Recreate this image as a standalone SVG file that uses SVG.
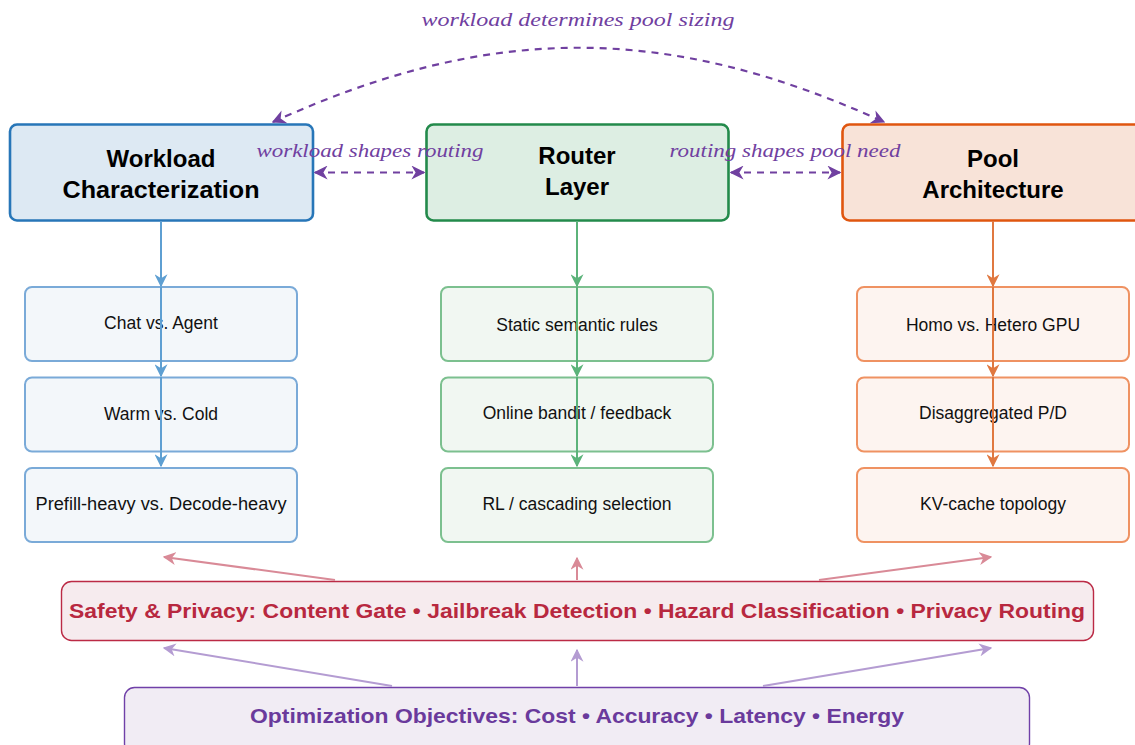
<svg xmlns="http://www.w3.org/2000/svg" width="1135" height="745" viewBox="0 0 1135 745">
<defs>
<style>
.title{font-family:"Liberation Sans",Arial,sans-serif;font-weight:bold;font-size:24px;fill:#000;text-anchor:middle}
.sub{font-family:"Liberation Sans",Arial,sans-serif;font-size:17.5px;fill:#111;text-anchor:middle}
.lbl{font-family:"Liberation Serif","Times New Roman",serif;font-style:italic;font-size:19px;fill:#7040a0;text-anchor:middle}
.band{font-family:"Liberation Sans",Arial,sans-serif;font-weight:bold;text-anchor:middle}
.dash{stroke:#7040a0;stroke-width:2.2;stroke-dasharray:7,6;fill:none}
</style>
<marker id="mP" viewBox="0 0 10 10" refX="9" refY="5" markerWidth="14" markerHeight="14" markerUnits="userSpaceOnUse" orient="auto-start-reverse"><path d="M0,0 L10,5 L0,10 L3,5 z" fill="#7040a0"/></marker>
<marker id="mB" viewBox="0 0 10 10" refX="9" refY="5" markerWidth="13" markerHeight="13" markerUnits="userSpaceOnUse" orient="auto"><path d="M0,0 L10,5 L0,10 L3,5 z" fill="#5e9fd2"/></marker>
<marker id="mG" viewBox="0 0 10 10" refX="9" refY="5" markerWidth="13" markerHeight="13" markerUnits="userSpaceOnUse" orient="auto"><path d="M0,0 L10,5 L0,10 L3,5 z" fill="#5cb37a"/></marker>
<marker id="mO" viewBox="0 0 10 10" refX="9" refY="5" markerWidth="13" markerHeight="13" markerUnits="userSpaceOnUse" orient="auto"><path d="M0,0 L10,5 L0,10 L3,5 z" fill="#e07840"/></marker>
<marker id="mR" viewBox="0 0 10 10" refX="9" refY="5" markerWidth="13" markerHeight="13" markerUnits="userSpaceOnUse" orient="auto"><path d="M0,0 L10,5 L0,10 L3,5 z" fill="#d98a97"/></marker>
<marker id="mV" viewBox="0 0 10 10" refX="9" refY="5" markerWidth="13" markerHeight="13" markerUnits="userSpaceOnUse" orient="auto"><path d="M0,0 L10,5 L0,10 L3,5 z" fill="#b49cd2"/></marker>
</defs>
<rect width="1135" height="745" fill="#fff"/>

<g id="workload">
<rect x="10" y="124.5" width="303" height="96" rx="7" fill="#dde9f3" stroke="#2776b8" stroke-width="2.6"/>
<text class="title" x="161" y="167">Workload</text>
<text class="title" x="161" y="198" textLength="197" lengthAdjust="spacingAndGlyphs">Characterization</text>
</g>
<g id="router">
<rect x="426.5" y="124.5" width="302" height="96" rx="7" fill="#ddeee3" stroke="#238a4b" stroke-width="2.6"/>
<text class="title" x="577" y="164">Router</text>
<text class="title" x="577" y="195">Layer</text>
</g>
<g id="pool">
<rect x="842.5" y="124.5" width="302" height="96" rx="7" fill="#f8e3d8" stroke="#e0560f" stroke-width="2.6"/>
<text class="title" x="993" y="167">Pool</text>
<text class="title" x="993" y="198">Architecture</text>
</g>

<g id="w1"><rect x="25" y="287" width="272" height="74" rx="7" fill="#f3f7fa" stroke="#7aaad8" stroke-width="2"/><text class="sub" x="161" y="329">Chat vs. Agent</text></g>
<g id="w2"><rect x="25" y="377.5" width="272" height="74" rx="7" fill="#f3f7fa" stroke="#7aaad8" stroke-width="2"/><text class="sub" x="161" y="420">Warm vs. Cold</text></g>
<g id="w3"><rect x="25" y="468" width="272" height="74" rx="7" fill="#f3f7fa" stroke="#7aaad8" stroke-width="2"/><text class="sub" x="161" y="510" textLength="251" lengthAdjust="spacingAndGlyphs">Prefill-heavy vs. Decode-heavy</text></g>

<g id="r1"><rect x="441" y="287" width="272" height="74" rx="7" fill="#f1f7f2" stroke="#7cc08f" stroke-width="2"/><text class="sub" x="577" y="331">Static semantic rules</text></g>
<g id="r2"><rect x="441" y="377.5" width="272" height="74" rx="7" fill="#f1f7f2" stroke="#7cc08f" stroke-width="2"/><text class="sub" x="577" y="419">Online bandit / feedback</text></g>
<g id="r3"><rect x="441" y="468" width="272" height="74" rx="7" fill="#f1f7f2" stroke="#7cc08f" stroke-width="2"/><text class="sub" x="577" y="510">RL / cascading selection</text></g>

<g id="p1"><rect x="857" y="287" width="272" height="74" rx="7" fill="#fdf4f0" stroke="#ef9262" stroke-width="2"/><text class="sub" x="993" y="331">Homo vs. Hetero GPU</text></g>
<g id="p2"><rect x="857" y="377.5" width="272" height="74" rx="7" fill="#fdf4f0" stroke="#ef9262" stroke-width="2"/><text class="sub" x="993" y="419">Disaggregated P/D</text></g>
<g id="p3"><rect x="857" y="468" width="272" height="74" rx="7" fill="#fdf4f0" stroke="#ef9262" stroke-width="2"/><text class="sub" x="993" y="510">KV-cache topology</text></g>

<g id="safety">
<rect x="61.5" y="581.5" width="1032" height="59" rx="10" fill="#f6ebee" stroke="#bb2a45" stroke-width="1.4"/>
<text class="band" x="577" y="618" font-size="21" fill="#b8283f" textLength="1016" lengthAdjust="spacingAndGlyphs">Safety &amp; Privacy: Content Gate • Jailbreak Detection • Hazard Classification • Privacy Routing</text>
</g>
<g id="objectives">
<rect x="124.5" y="687.5" width="905" height="66" rx="10" fill="#f1ecf4" stroke="#7040a8" stroke-width="1.4"/>
<text class="band" x="577" y="723" font-size="21" fill="#6a3a9c" textLength="654" lengthAdjust="spacingAndGlyphs">Optimization Objectives: Cost • Accuracy • Latency • Energy</text>
</g>

<g id="connectors" fill="none">
<line x1="161" y1="221" x2="161" y2="286" stroke="#5e9fd2" stroke-width="2" marker-end="url(#mB)"/>
<line x1="161" y1="287" x2="161" y2="376" stroke="#5e9fd2" stroke-width="2" marker-end="url(#mB)"/>
<line x1="161" y1="377" x2="161" y2="466" stroke="#5e9fd2" stroke-width="2" marker-end="url(#mB)"/>
<line x1="577" y1="221" x2="577" y2="286" stroke="#5cb37a" stroke-width="2" marker-end="url(#mG)"/>
<line x1="577" y1="287" x2="577" y2="376" stroke="#5cb37a" stroke-width="2" marker-end="url(#mG)"/>
<line x1="577" y1="377" x2="577" y2="466" stroke="#5cb37a" stroke-width="2" marker-end="url(#mG)"/>
<line x1="993" y1="221" x2="993" y2="286" stroke="#e07840" stroke-width="2" marker-end="url(#mO)"/>
<line x1="993" y1="287" x2="993" y2="376" stroke="#e07840" stroke-width="2" marker-end="url(#mO)"/>
<line x1="993" y1="377" x2="993" y2="466" stroke="#e07840" stroke-width="2" marker-end="url(#mO)"/>

<line class="dash" x1="315" y1="172.5" x2="424" y2="172.5" marker-start="url(#mP)" marker-end="url(#mP)"/>
<line class="dash" x1="731" y1="172.5" x2="840" y2="172.5" marker-start="url(#mP)" marker-end="url(#mP)"/>
<path class="dash" d="M273,122 C490,23 667,23 884,122" marker-start="url(#mP)" marker-end="url(#mP)"/>

<line x1="335" y1="580" x2="164" y2="557" stroke="#d98a97" stroke-width="2" marker-end="url(#mR)"/>
<line x1="577" y1="580" x2="577" y2="558" stroke="#d98a97" stroke-width="2" marker-end="url(#mR)"/>
<line x1="819" y1="580" x2="991" y2="557" stroke="#d98a97" stroke-width="2" marker-end="url(#mR)"/>
<line x1="392" y1="686" x2="164" y2="648" stroke="#b49cd2" stroke-width="2" marker-end="url(#mV)"/>
<line x1="577" y1="686" x2="577" y2="650" stroke="#b49cd2" stroke-width="2" marker-end="url(#mV)"/>
<line x1="763" y1="686" x2="991" y2="648" stroke="#b49cd2" stroke-width="2" marker-end="url(#mV)"/>
</g>

<g id="labels">
<text class="lbl" x="578" y="26" textLength="313" lengthAdjust="spacingAndGlyphs">workload determines pool sizing</text>
<text class="lbl" x="370" y="157" textLength="227" lengthAdjust="spacingAndGlyphs">workload shapes routing</text>
<text class="lbl" x="785" y="157" textLength="231" lengthAdjust="spacingAndGlyphs">routing shapes pool need</text>
</g>
</svg>
